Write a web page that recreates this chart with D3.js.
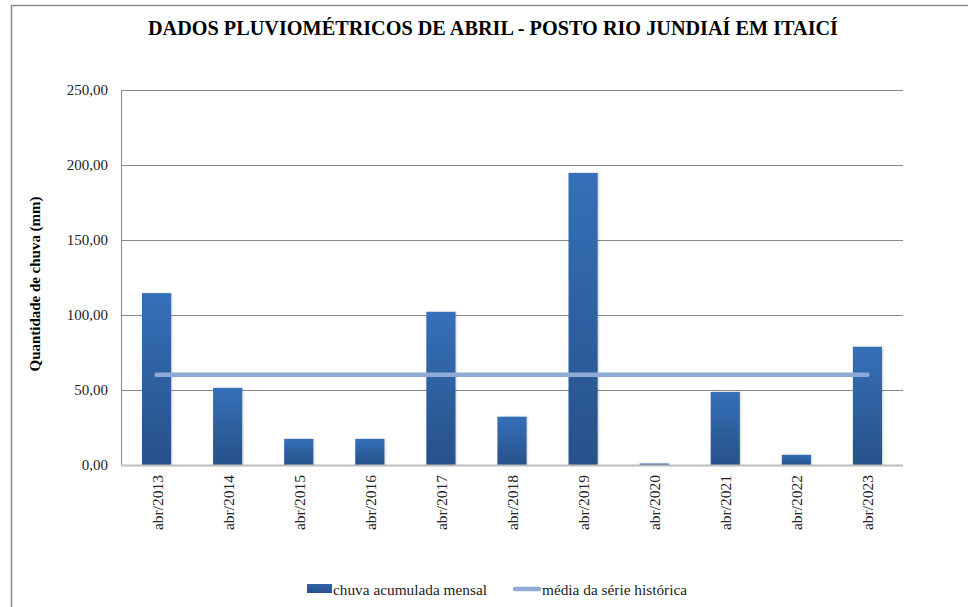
<!DOCTYPE html>
<html>
<head>
<meta charset="utf-8">
<script src="https://cdn.jsdelivr.net/npm/d3@7"></script>
<style>
  body { margin: 0; background: #fff; }
  svg { display: block; }
  svg text { font-family: "Liberation Serif", "Times New Roman", Times, "DejaVu Serif", serif; }
</style>
</head>
<body>
<svg id="chart" width="968" height="607"></svg>
<script>
const categories = ["abr/2013", "abr/2014", "abr/2015", "abr/2016", "abr/2017", "abr/2018",
  "abr/2019", "abr/2020", "abr/2021", "abr/2022", "abr/2023"];
const rainfall = [114.6, 51.4, 17.4, 17.4, 102.1, 32.2, 194.7, 1.0, 48.7, 6.8, 78.8];
const historicalMean = [60.2, 60.2, 60.2, 60.2, 60.2, 60.2, 60.2, 60.2, 60.2, 60.2, 60.2];
const yTicks = [0, 50, 100, 150, 200, 250];

const svg = d3.select("#chart");
const margin = { top: 90, right: 65, bottom: 142, left: 121 };
const width = 968, height = 607;

// outer chart frame
svg.append("path")
  .attr("d", `M11.5,${height + 2} V5.5 H${width + 2}`)
  .attr("fill", "none")
  .attr("stroke", "#8c8c8c")
  .attr("stroke-width", 1.5);

const x = d3.scaleBand()
  .domain(categories)
  .range([margin.left, width - margin.right])
  .paddingInner(0.59)
  .paddingOuter(0.295);

const xc = d3.scaleBand().domain(categories).range([margin.left, width - margin.right]);

const y = d3.scaleLinear().domain([0, 250]).range([height - margin.bottom, margin.top]);

const fmt = (d) => d3.format(".2f")(d).replace(".", ",");

const defs = svg.append("defs");
const grad = defs.append("linearGradient")
  .attr("id", "barGrad")
  .attr("x1", 0).attr("y1", 0).attr("x2", 0).attr("y2", 1);
grad.append("stop").attr("offset", "0%").attr("stop-color", "#3570b8");
grad.append("stop").attr("offset", "100%").attr("stop-color", "#27518a");

const legGrad = defs.append("linearGradient")
  .attr("id", "legGrad")
  .attr("x1", 0).attr("y1", 0).attr("x2", 0).attr("y2", 1);
legGrad.append("stop").attr("offset", "0%").attr("stop-color", "#2f65a8");
legGrad.append("stop").attr("offset", "100%").attr("stop-color", "#27518a");

// gridlines
svg.append("g")
  .selectAll("line")
  .data(yTicks.filter((d) => d > 0))
  .join("line")
  .attr("x1", margin.left)
  .attr("x2", width - margin.right)
  .attr("y1", (d) => Math.round(y(d)) + 0.5)
  .attr("y2", (d) => Math.round(y(d)) + 0.5)
  .attr("stroke", "#8a8a8a")
  .attr("stroke-width", 1);

// y axis line
svg.append("line")
  .attr("x1", margin.left + 0.5).attr("x2", margin.left + 0.5)
  .attr("y1", y(250)).attr("y2", y(0))
  .attr("stroke", "#8a8a8a");

// y tick labels
svg.append("g")
  .selectAll("text")
  .data(yTicks)
  .join("text")
  .attr("x", margin.left - 13)
  .attr("y", (d) => y(d))
  .attr("dy", "0.33em")
  .attr("text-anchor", "end")
  .attr("font-size", 15)
  .attr("fill", "#222")
  .text(fmt);

// bars
svg.append("g")
  .selectAll("rect")
  .data(rainfall)
  .join("rect")
  .attr("x", (d, i) => x(categories[i]))
  .attr("y", (d) => y(d))
  .attr("width", x.bandwidth())
  .attr("height", (d) => y(0) - y(d))
  .attr("fill", "url(#barGrad)")
  .style("filter", "drop-shadow(1px 0px 1px rgba(0,0,0,0.18))");

// x axis line
svg.append("line")
  .attr("x1", margin.left).attr("x2", width - margin.right)
  .attr("y1", y(0) + 0.5).attr("y2", y(0) + 0.5)
  .attr("stroke", "#bdbdbd")
  .attr("stroke-width", 2);

// mean line
const line = d3.line()
  .x((d, i) => xc(categories[i]) + xc.bandwidth() / 2)
  .y((d) => y(d));

svg.append("path")
  .datum(historicalMean)
  .attr("d", line)
  .attr("fill", "none")
  .attr("stroke", "#8eaad6")
  .attr("stroke-width", 4.5)
  .attr("stroke-linecap", "round");

// x labels
svg.append("g")
  .selectAll("text")
  .data(categories)
  .join("text")
  .attr("transform", (d) => `translate(${xc(d) + xc.bandwidth() / 2 + 6},${y(0) + 10}) rotate(-90)`)
  .attr("text-anchor", "end")
  .attr("font-size", 15.5)
  .attr("fill", "#222")
  .text((d) => d);

// title
svg.append("text")
  .attr("x", 493)
  .attr("y", 35)
  .attr("text-anchor", "middle")
  .attr("font-size", 21)
  .attr("font-weight", "bold")
  .attr("textLength", 690)
  .attr("lengthAdjust", "spacingAndGlyphs")
  .text("DADOS PLUVIOMÉTRICOS  DE ABRIL - POSTO RIO JUNDIAÍ  EM ITAICÍ");

// y axis title
svg.append("text")
  .attr("transform", `translate(40,284) rotate(-90)`)
  .attr("text-anchor", "middle")
  .attr("font-size", 14)
  .attr("font-weight", "bold")
  .attr("textLength", 175)
  .attr("lengthAdjust", "spacingAndGlyphs")
  .text("Quantidade  de chuva  (mm)");

// legend
const leg = svg.append("g").attr("transform", "translate(0,595)");
leg.append("rect")
  .attr("x", 307).attr("y", -11)
  .attr("width", 25).attr("height", 9)
  .attr("fill", "url(#legGrad)");
leg.append("text")
  .attr("x", 333).attr("y", 0)
  .attr("font-size", 15)
  .attr("fill", "#222")
  .attr("textLength", 154)
  .attr("lengthAdjust", "spacingAndGlyphs")
  .text("chuva acumulada mensal");
leg.append("line")
  .attr("x1", 515).attr("x2", 539)
  .attr("y1", -6).attr("y2", -6)
  .attr("stroke", "#8eaad6")
  .attr("stroke-width", 4.5)
  .attr("stroke-linecap", "round");
leg.append("text")
  .attr("x", 542).attr("y", 0)
  .attr("font-size", 15)
  .attr("fill", "#222")
  .attr("textLength", 145)
  .attr("lengthAdjust", "spacingAndGlyphs")
  .text("média da série histórica");
</script>
</body>
</html>
